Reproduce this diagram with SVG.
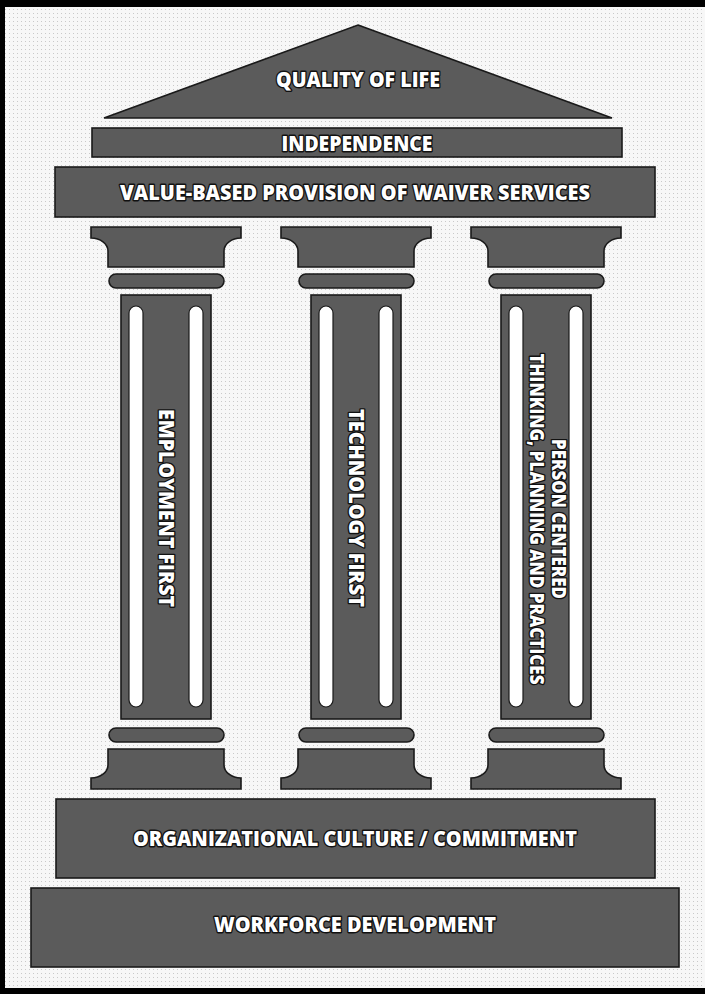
<svg xmlns="http://www.w3.org/2000/svg" width="705" height="994" viewBox="0 0 705 994">
  <defs>
    <pattern id="dots" width="4" height="4" patternUnits="userSpaceOnUse">
      <rect width="4" height="4" fill="#f7f7f7"/>
      <rect x="1" y="1" width="1" height="1" fill="#c9c9c9"/>
    </pattern>
    <style>
      .block { fill: #5b5b5b; stroke: #1a1a1a; stroke-width: 1.6; }
      .flute { fill: #ffffff; stroke: #1a1a1a; stroke-width: 1.2; }
      .label { font-family: "Open Sans", "Liberation Sans", sans-serif; font-weight: 800; fill: #ffffff;
               stroke: #111111; stroke-width: 2.8; paint-order: stroke; stroke-linejoin: round; text-anchor: middle; }
      .big { font-size: 21px; }
      .small { font-size: 18.5px; }
    </style>
    <!-- one column: capital, upper torus, fluted shaft, lower torus, base -->
    <g id="column-shape">
      <path class="block" d="M0,0 H150 V11 A17,13 0 0 0 133,24 V40 H17 V24 A17,13 0 0 0 0,11 Z"/>
      <rect class="block" x="18" y="47" width="115" height="14" rx="7"/>
      <rect class="block" x="30" y="68" width="90" height="424"/>
      <rect class="flute" x="38" y="79" width="14" height="401" rx="7"/>
      <rect class="flute" x="98" y="79" width="14" height="401" rx="7"/>
      <rect class="block" x="18" y="501" width="115" height="14" rx="7"/>
      <path class="block" d="M17,522 H133 V538 A17,13 0 0 0 150,551 V562 H0 V551 A17,13 0 0 0 17,538 Z"/>
    </g>
  </defs>

  <!-- frame and textured backdrop -->
  <rect width="705" height="994" fill="#000000"/>
  <rect x="5" y="7" width="700" height="981" fill="url(#dots)"/>

  <g id="roof">
    <polygon class="block" points="358,25 612,118 104,118"/>
    <text class="label big" x="358" y="87" textLength="164" lengthAdjust="spacingAndGlyphs">QUALITY OF LIFE</text>
  </g>

  <g id="independence">
    <rect class="block" x="92" y="128" width="530" height="29"/>
    <text class="label big" x="357" y="151" textLength="151" lengthAdjust="spacingAndGlyphs">INDEPENDENCE</text>
  </g>

  <g id="value-based">
    <rect class="block" x="55" y="167" width="600" height="50"/>
    <text class="label big" x="355" y="200" textLength="470" lengthAdjust="spacingAndGlyphs">VALUE-BASED PROVISION OF WAIVER SERVICES</text>
  </g>

  <g id="employment-first">
    <use href="#column-shape" x="91" y="227"/>
    <text class="label big" transform="translate(159,508) rotate(90)" textLength="198" lengthAdjust="spacingAndGlyphs">EMPLOYMENT FIRST</text>
  </g>

  <g id="technology-first">
    <use href="#column-shape" x="281" y="227"/>
    <text class="label big" transform="translate(349,508) rotate(90)" textLength="198" lengthAdjust="spacingAndGlyphs">TECHNOLOGY FIRST</text>
  </g>

  <g id="person-centered">
    <use href="#column-shape" x="471" y="227"/>
    <text class="label small" transform="translate(552,519) rotate(90)" textLength="160" lengthAdjust="spacingAndGlyphs">PERSON CENTERED</text>
    <text class="label small" transform="translate(530,519) rotate(90)" textLength="331" lengthAdjust="spacingAndGlyphs">THINKING, PLANNING AND PRACTICES</text>
  </g>

  <g id="organizational-culture">
    <rect class="block" x="56" y="799" width="599" height="79"/>
    <text class="label big" x="355" y="846" textLength="444" lengthAdjust="spacingAndGlyphs">ORGANIZATIONAL CULTURE / COMMITMENT</text>
  </g>

  <g id="workforce-development">
    <rect class="block" x="31" y="888" width="648" height="79"/>
    <text class="label big" x="355" y="932" textLength="282" lengthAdjust="spacingAndGlyphs">WORKFORCE DEVELOPMENT</text>
  </g>

  <g id="connectors"/>
</svg>
